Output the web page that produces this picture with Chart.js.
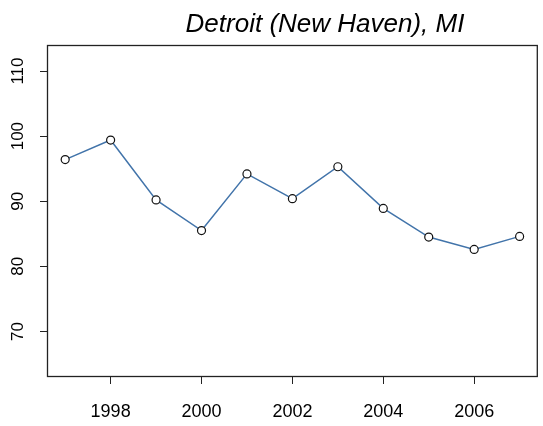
<!DOCTYPE html>
<html>
<head>
<meta charset="utf-8">
<script src="https://cdn.jsdelivr.net/npm/chart.js@4"></script>
<style>
  html, body { margin: 0; padding: 0; background: #fff; }
  #wrap { width: 543px; height: 426px; }
</style>
</head>
<body>
<div id="wrap"><canvas id="detroitChart"></canvas></div>
<script>
const years = [1997, 1998, 1999, 2000, 2001, 2002, 2003, 2004, 2005, 2006, 2007];
const values = [96.4, 99.4, 90.2, 85.5, 94.2, 90.4, 95.3, 88.9, 84.5, 82.6, 84.6];
const xTicks = [1998, 2000, 2002, 2004, 2006];
const yTicks = [70, 80, 90, 100, 110];
const title = "Detroit (New Haven), MI";

// box, rotated y labels and title, R style
const rPlot = {
  id: "rPlot",
  afterDraw(chart) {
    const ctx = chart.ctx;
    const a = chart.chartArea;
    const y = chart.scales.y;
    ctx.save();
    ctx.strokeStyle = "#222";
    ctx.lineWidth = 1.3;
    ctx.strokeRect(a.left + 0.5, a.top + 0.5, a.right - a.left - 1, a.bottom - a.top - 1);

    ctx.fillStyle = "#000";
    ctx.font = "17px 'Liberation Sans', Arial, sans-serif";
    ctx.textAlign = "center";
    ctx.textBaseline = "middle";
    yTicks.forEach(v => {
      ctx.save();
      ctx.translate(18, y.getPixelForValue(v));
      ctx.rotate(-Math.PI / 2);
      ctx.fillText(String(v), 0, 0);
      ctx.restore();
    });

    ctx.font = "italic 26px 'Liberation Sans', Arial, sans-serif";
    ctx.textBaseline = "alphabetic";
    ctx.fillText(title, 325, 32);
    ctx.restore();
  }
};

new Chart(document.getElementById("detroitChart"), {
  type: "line",
  data: {
    datasets: [{
      data: years.map((yr, i) => ({ x: yr, y: values[i] })),
      borderColor: "#4274aa",
      borderWidth: 1.5,
      pointRadius: 4,
      pointBorderColor: "#111",
      pointBackgroundColor: "#fff",
      pointBorderWidth: 1.2,
      tension: 0
    }]
  },
  options: {
    responsive: true,
    maintainAspectRatio: false,
    animation: false,
    layout: { padding: { top: 45, right: 1, left: 0, bottom: 0 } },
    plugins: { legend: { display: false }, tooltip: { enabled: false } },
    scales: {
      x: {
        type: "linear",
        min: 1996.6,
        max: 2007.4,
        afterBuildTicks: s => { s.ticks = xTicks.map(v => ({ value: v })); },
        afterFit: s => { s.height = 49; },
        grid: { drawOnChartArea: false, drawTicks: true, tickLength: 7, color: "#222" },
        border: { display: false },
        ticks: {
          color: "#000",
          font: { family: "'Liberation Sans', Arial, sans-serif", size: 18 },
          padding: 17,
          maxRotation: 0,
          callback: v => String(v)
        }
      },
      y: {
        min: 63,
        max: 114,
        afterBuildTicks: s => { s.ticks = yTicks.map(v => ({ value: v })); },
        afterFit: s => { s.width = 47; },
        grid: { drawOnChartArea: false, drawTicks: true, tickLength: 7, color: "#222" },
        border: { display: false },
        ticks: { color: "rgba(0,0,0,0)", font: { size: 17 } }
      }
    }
  },
  plugins: [rPlot]
});
</script>
</body>
</html>
